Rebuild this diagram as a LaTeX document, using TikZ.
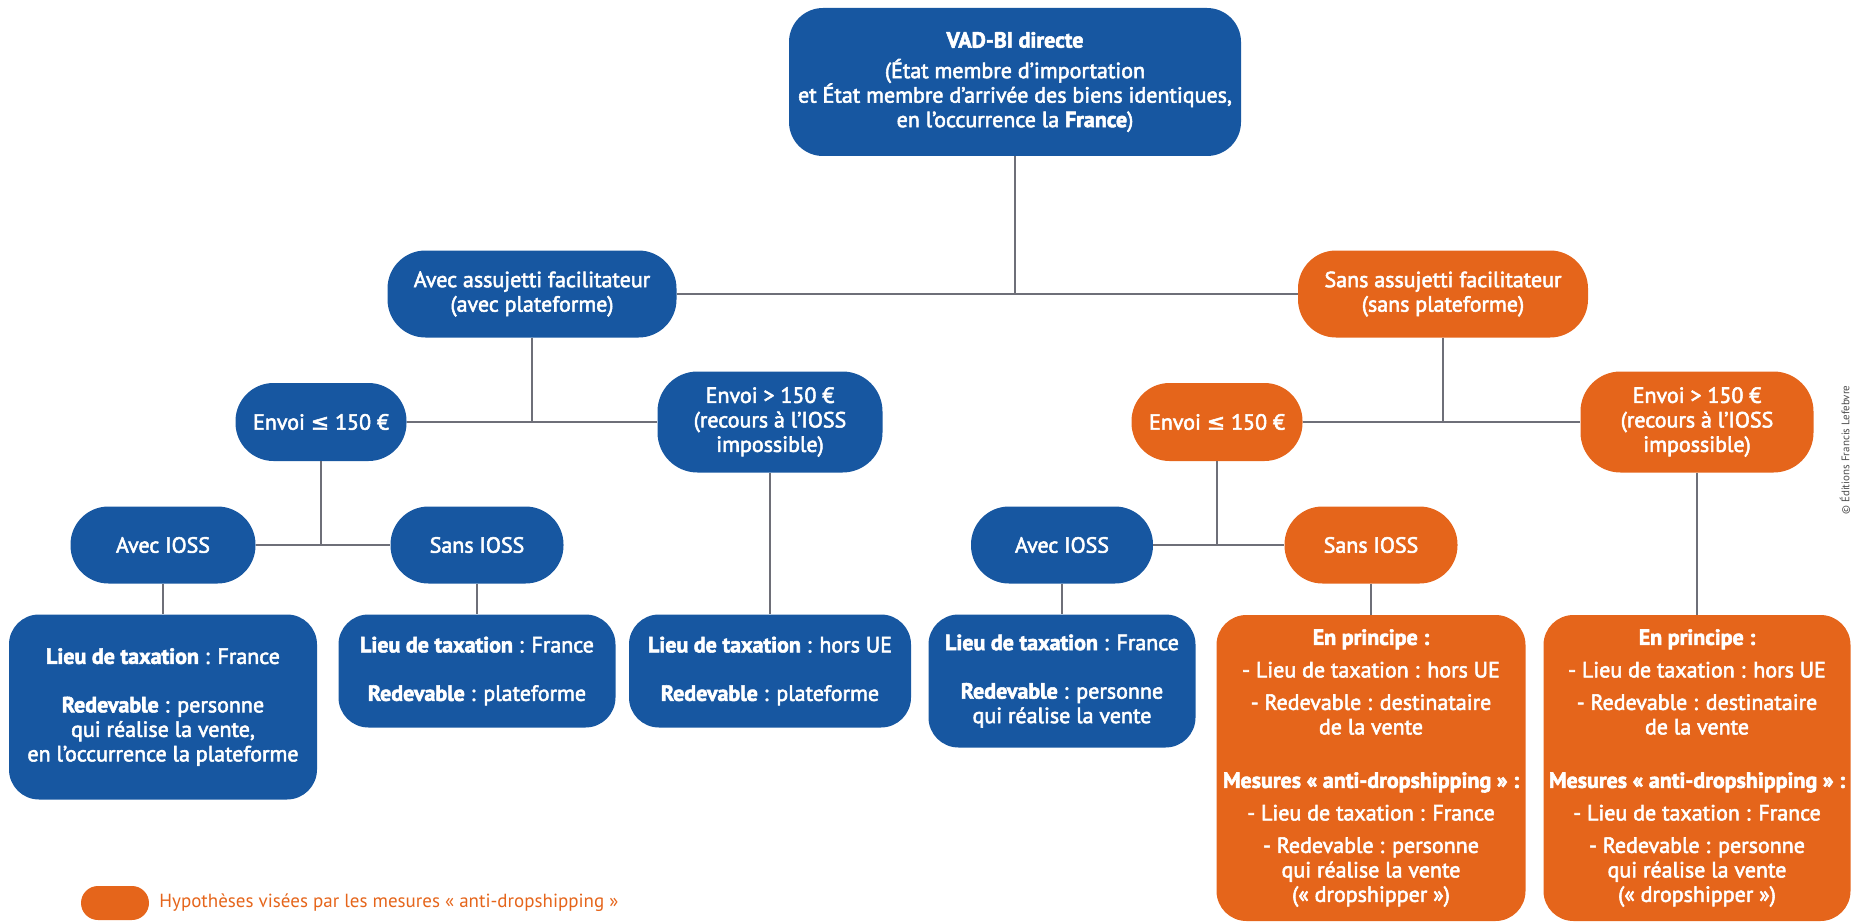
\documentclass[tikz,border=0pt]{standalone}
\usepackage{fontspec}
\setmainfont{PT Sans}
\newfontfamily\nodefont{PT Sans}[FakeBold=2.5]
\newfontfamily\symfont{DejaVu Sans}[FakeBold=2.5]
\usetikzlibrary{positioning}
\definecolor{vadblue}{HTML}{1757A1}
\definecolor{vadorange}{HTML}{E5651B}
\definecolor{linkgray}{HTML}{6E6F78}
\tikzstyle{box} = [rounded corners=38pt, text=white, align=center, inner sep=0pt, font=\nodefont\fontsize{22}{24.5}\selectfont]
\tikzstyle{bluebox} = [box, fill=vadblue]
\tikzstyle{orangebox} = [box, fill=vadorange]
\tikzstyle{leaf} = [rounded corners=30pt]
\tikzstyle{link} = [draw=linkgray, line width=2.6pt]

\begin{document}
\begin{tikzpicture}[x=1pt, y=-1pt]

    \useasboundingbox (0,0) rectangle (1861,923);

    % root
    \node [bluebox, rounded corners=34pt, minimum width=452pt, minimum height=148pt, name = vad] at (1015,82)
    {\textbf{VAD-BI directe}\\[6pt] (État membre d’importation\\ et État membre d’arrivée des biens identiques,\\ en l’occurrence la \textbf{France})};

    % with / without platform
    \node [bluebox, minimum width=289pt, minimum height=87pt, name = avec] at (532,294) {Avec assujetti facilitateur\\ (avec plateforme)};
    \node [orangebox, minimum width=290pt, minimum height=87pt, name = sans] at (1443,294) {Sans assujetti facilitateur\\ (sans plateforme)};

    % value of the shipment
    \node [bluebox, minimum width=171pt, minimum height=78pt, name = lowA] at (321,422) {Envoi {\symfont ≤} 150 €};
    \node [bluebox, rounded corners=40pt, minimum width=225pt, minimum height=101pt, name = highA] at (770,422) {Envoi > 150 €\\ (recours à l’IOSS\\ impossible)};
    \node [orangebox, minimum width=171pt, minimum height=78pt, name = lowB] at (1217,422) {Envoi {\symfont ≤} 150 €};
    \node [orangebox, rounded corners=40pt, minimum width=233pt, minimum height=101pt, name = highB] at (1697,422) {Envoi > 150 €\\ (recours à l’IOSS\\ impossible)};

    % IOSS
    \node [bluebox, minimum width=185pt, minimum height=77pt, name = iossA] at (163,545) {Avec IOSS};
    \node [bluebox, minimum width=173pt, minimum height=77pt, name = noiossA] at (477,545) {Sans IOSS};
    \node [bluebox, minimum width=182pt, minimum height=77pt, name = iossB] at (1062,545) {Avec IOSS};
    \node [orangebox, minimum width=173pt, minimum height=77pt, name = noiossB] at (1371,545) {Sans IOSS};

    % results
    \node [bluebox, leaf, minimum width=308pt, minimum height=185pt, name = res1] at (163,707)
    {\textbf{Lieu de taxation} : France\\[24pt] \textbf{Redevable} : personne\\ qui réalise la vente,\\ en l’occurrence la plateforme};
    \node [bluebox, leaf, minimum width=277pt, minimum height=113pt, name = res2] at (477,671)
    {\textbf{Lieu de taxation} : France\\[24pt] \textbf{Redevable} : plateforme};
    \node [bluebox, leaf, minimum width=282pt, minimum height=113pt, name = res3] at (770,671)
    {\textbf{Lieu de taxation} : hors UE\\[24pt] \textbf{Redevable} : plateforme};
    \node [bluebox, leaf, minimum width=267pt, minimum height=133pt, name = res4] at (1062,681)
    {\textbf{Lieu de taxation} : France\\[24pt] \textbf{Redevable} : personne\\ qui réalise la vente};
    \node [orangebox, leaf, minimum width=309pt, minimum height=306pt, name = res5] at (1371,768)
    {\textbf{En principe :}\\[8pt] - Lieu de taxation : hors UE\\[8pt] - Redevable : destinataire\\ de la vente\\[29pt]
     \textbf{Mesures « anti-dropshipping » :}\\[8pt] - Lieu de taxation : France\\[8pt] - Redevable : personne\\ qui réalise la vente\\ (« dropshipper »)};
    \node [orangebox, leaf, minimum width=307pt, minimum height=306pt, name = res6] at (1697,768)
    {\textbf{En principe :}\\[8pt] - Lieu de taxation : hors UE\\[8pt] - Redevable : destinataire\\ de la vente\\[29pt]
     \textbf{Mesures « anti-dropshipping » :}\\[8pt] - Lieu de taxation : France\\[8pt] - Redevable : personne\\ qui réalise la vente\\ (« dropshipper »)};

    % legend and credit
    \node [orangebox, rounded corners=17pt, minimum width=68pt, minimum height=34pt, name = key] at (115,903) {};
    \node [right = 10pt of key, inner sep=0pt, text=vadorange, font=\fontsize{19}{22}\selectfont, name = keytext] {Hypothèses visées par les mesures « anti-dropshipping »};
    \node [rotate=90, inner sep=0pt, text=black!70, font=\fontsize{11}{13}\selectfont, name = credit] at (1845,450) {© Éditions Francis Lefebvre};

    \draw [link] (vad) -- (vad |- avec);
    \draw [link] (avec) -- (sans);
    \draw [link] (avec) -- (avec |- lowA);
    \draw [link] (lowA) -- (highA);
    \draw [link] (sans) -- (sans |- lowB);
    \draw [link] (lowB) -- (highB);
    \draw [link] (lowA) -- (lowA |- iossA);
    \draw [link] (iossA) -- (noiossA);
    \draw [link] (lowB) -- (lowB |- iossB);
    \draw [link] (iossB) -- (noiossB);
    \draw [link] (iossA) -- (res1);
    \draw [link] (noiossA) -- (res2);
    \draw [link] (highA) -- (res3);
    \draw [link] (iossB) -- (res4);
    \draw [link] (noiossB) -- (res5);
    \draw [link] (highB) -- (res6);

\end{tikzpicture}
\end{document}
